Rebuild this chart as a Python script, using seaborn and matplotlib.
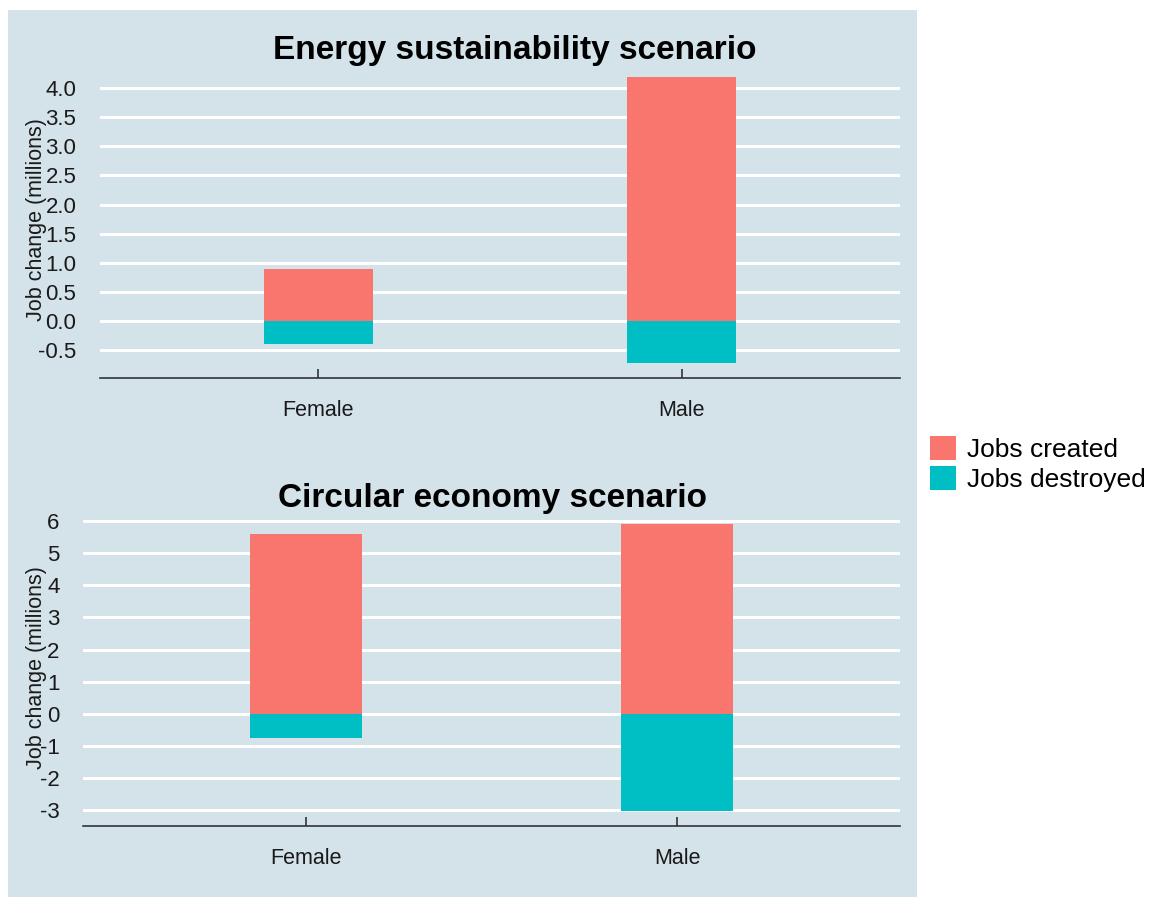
import matplotlib
matplotlib.use("Agg")
import matplotlib.pyplot as plt
import matplotlib.patches as mpatches
import seaborn as sns
import pandas as pd

genders = ["Female", "Male"]
types = ["Jobs created", "Jobs destroyed"]
energy_created = [0.89, 4.19]
energy_destroyed = [-0.40, -0.72]
circular_created = [5.60, 5.90]
circular_destroyed = [-0.76, -3.03]
energy_ticks = [-0.5, 0.0, 0.5, 1.0, 1.5, 2.0, 2.5, 3.0, 3.5, 4.0]
circular_ticks = [-3, -2, -1, 0, 1, 2, 3, 4, 5, 6]

colors = {"Jobs created": "#F8766D", "Jobs destroyed": "#00BFC4"}
bg = "#d4e2e9"

sns.set_theme(style="white")
plt.rcParams["font.family"] = ["Liberation Sans", "DejaVu Sans"]

W, H = 1153, 900
fig = plt.figure(figsize=(W / 100, H / 100), dpi=100)
fig.patch.set_facecolor("white")
fig.patches.append(mpatches.Rectangle((8 / W, 1 - 897 / H), (917 - 8) / W, (897 - 10) / H,
                                      transform=fig.transFigure, facecolor=bg,
                                      edgecolor="none", zorder=-5))


def make_df(created, destroyed):
    rows = []
    for g, c, d in zip(genders, created, destroyed):
        rows.append({"gender": g, "value": c, "type": types[0]})
        rows.append({"gender": g, "value": d, "type": types[1]})
    return pd.DataFrame(rows)


def panel(rect, created, destroyed, ticks, ylim, labels_fmt):
    ax = fig.add_axes(rect)
    df = make_df(created, destroyed)
    sns.barplot(data=df, x="gender", y="value", hue="type", order=genders,
                hue_order=types, dodge=False, width=0.3, palette=colors,
                ax=ax, legend=False, saturation=1, errorbar=None,
                linewidth=0, edgecolor="none")
    ax.set_facecolor(bg)
    ax.set_xlim(-0.6, 1.6)
    ax.set_ylim(*ylim)
    ax.set_yticks(ticks)
    ax.set_yticklabels([labels_fmt(t) for t in ticks])
    ax.set_axisbelow(True)
    ax.yaxis.grid(True, color="white", linewidth=2.2)
    ax.xaxis.grid(False)
    for s in ["top", "right", "left"]:
        ax.spines[s].set_visible(False)
    ax.spines["bottom"].set_color("#333333")
    ax.spines["bottom"].set_linewidth(1.2)
    ax.tick_params(axis="y", length=0, pad=17, labelsize=16, labelcolor="#1a1a1a")
    ax.tick_params(axis="x", direction="in", length=6.5, width=1.2, color="#333333",
                   pad=16, labelsize=15.5, labelcolor="#1a1a1a", bottom=True)
    ax.set_xlabel("")
    ax.set_ylabel("")
    return ax


ax1 = panel([100 / W, 1 - 378 / H, 800 / W, (378 - 62.6) / H],
            energy_created, energy_destroyed, energy_ticks, (-0.98, 4.44),
            lambda t: f"{t:.1f}")
ax2 = panel([83 / W, 1 - 826 / H, 817 / W, (826 - 510) / H],
            circular_created, circular_destroyed, circular_ticks, (-3.5, 6.35),
            lambda t: f"{t:d}")

fig.text(515 / W, 1 - 50 / H, "Energy sustainability scenario", ha="center", va="center",
         fontsize=24, fontweight="bold", color="black")
fig.text(492 / W, 1 - 498 / H, "Circular economy scenario", ha="center", va="center",
         fontsize=24, fontweight="bold", color="black")

fig.text(37 / W, 1 - 220 / H, "Job change (millions)", rotation=90, ha="center",
         va="center", fontsize=15.5, color="#1a1a1a")
fig.text(37 / W, 1 - 668 / H, "Job change (millions)", rotation=90, ha="center",
         va="center", fontsize=15.5, color="#1a1a1a")

handles = [mpatches.Patch(facecolor=colors[t], edgecolor="none", label=t) for t in types]
leg = fig.legend(handles=handles, loc="center left", bbox_to_anchor=(930 / W, 1 - 464 / H),
                 frameon=False, fontsize=19, handlelength=1.0, handleheight=1.0,
                 handletextpad=0.42, labelspacing=0.15, borderpad=0, borderaxespad=0)
for t in leg.get_texts():
    t.set_color("black")

fig.savefig("out.png", dpi=100)
